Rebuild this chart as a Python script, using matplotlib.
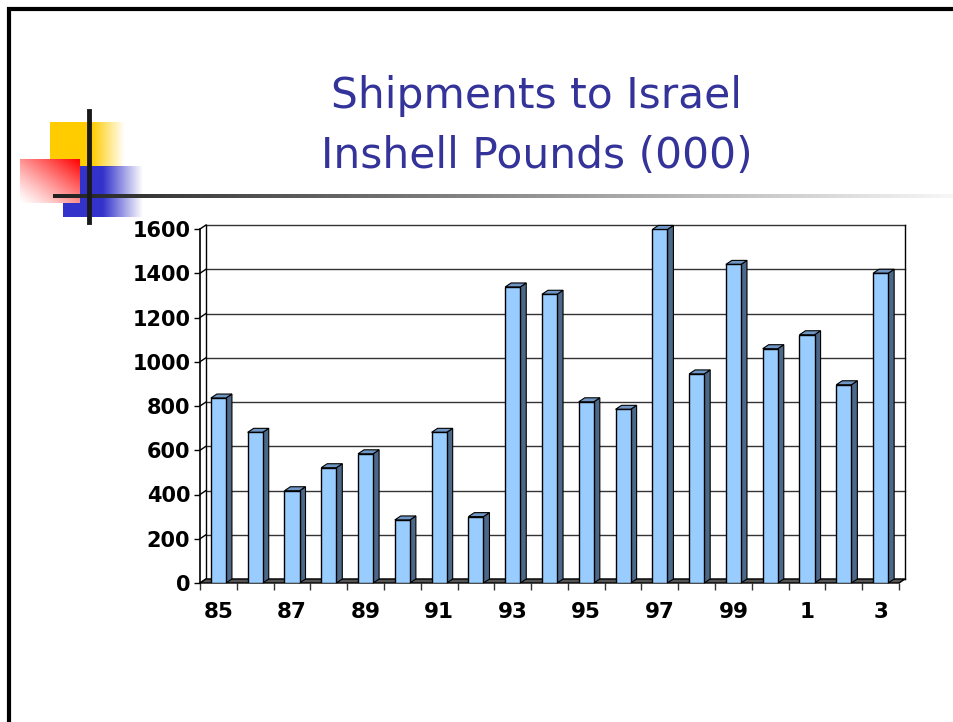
import numpy as np
import matplotlib.pyplot as plt
from matplotlib.patches import Polygon, Rectangle

years = ['85', '86', '87', '88', '89', '90', '91', '92', '93', '94',
         '95', '96', '97', '98', '99', '0', '1', '2', '3']
pounds = [836, 681, 417, 521, 584, 285, 681, 300, 1338, 1305,
          819, 785, 1598, 945, 1440, 1059, 1122, 896, 1400]
yticks = [0, 200, 400, 600, 800, 1000, 1200, 1400, 1600]

W, H = 954, 722
fig = plt.figure(figsize=(W / 100, H / 100), dpi=100)

# ---- slide decoration (pixel coords) ----
deco = fig.add_axes([0, 0, 1, 1])
deco.set_xlim(0, W)
deco.set_ylim(H, 0)
deco.axis('off')

# slide border
deco.plot([9, 9, W], [H, 9, 9], color='black', lw=3, solid_joinstyle='miter')


def hgrad(x0, x1, y0, y1, rgb, solid_to, z):
    n = 200
    xs = np.linspace(x0, x1, n)
    a = np.clip((x1 - xs) / (x1 - solid_to), 0, 1)
    img = np.ones((1, n, 4))
    img[0, :, :3] = rgb
    img[0, :, 3] = a
    deco.imshow(img, extent=[x0, x1, y1, y0], aspect='auto', zorder=z,
                interpolation='bilinear')


hgrad(50, 125, 122, 167, (1.0, 0.8, 0.0), 92, 1)
hgrad(63, 143, 166, 217, (0.2, 0.2, 0.8), 103, 2)

# red square, opaque diagonal fade from red (top right) to white (bottom left)
n = 100
gx, gy = np.meshgrid(np.linspace(0, 1, n), np.linspace(0, 1, n))
t = np.clip((gx + (1 - gy)) / 2, 0, 1) ** 1.2
red = np.ones((n, n, 3))
red[:, :, 1] = 1 - t
red[:, :, 2] = 1 - t
deco.imshow(red, extent=[20, 80, 203, 159], aspect='auto', zorder=3,
            interpolation='bilinear')

# line under title, dark to light
n = 400
line = np.ones((1, n, 4))
v = np.linspace(0.13, 0.97, n)
line[0, :, 0] = v
line[0, :, 1] = v
line[0, :, 2] = v
deco.imshow(line, extent=[53, W, 198, 194], aspect='auto', zorder=4)
deco.plot([89, 89], [111, 222], color='#1a1a1a', lw=3.5, zorder=5)

# ---- title ----
fig.text(537 / W, 1 - 108 / H, 'Shipments to Israel', ha='center', va='baseline',
         fontsize=30.5, color='#333399')
fig.text(537 / W, 1 - 168 / H, 'Inshell Pounds (000)', ha='center', va='baseline',
         fontsize=30.5, color='#333399')

# ---- chart ----
ax = fig.add_axes([200 / W, 1 - 583 / H, 699 / W, 354 / H])
ax.set_xlim(-0.5, len(years) - 0.5)
ax.set_ylim(0, 1600)
for s in ax.spines.values():
    s.set_visible(False)

dx = 6 / (699 / len(years))   # depth in data units
dy = 4 / (354 / 1600)
x0, x1 = -0.5, len(years) - 0.5

# back wall gridlines and connectors on the left
for t in yticks:
    ax.plot([x0 + dx, x1 + dx], [t + dy, t + dy], color='#333333', lw=1,
            clip_on=False, zorder=1)
    ax.plot([x0, x0 + dx], [t, t + dy], color='black', lw=1, clip_on=False, zorder=1)
ax.plot([x0 + dx, x0 + dx], [dy, 1600 + dy], color='black', lw=1, clip_on=False, zorder=1)
ax.plot([x1 + dx, x1 + dx], [dy, 1600 + dy], color='black', lw=1, clip_on=False, zorder=1)
ax.plot([x0, x0], [0, 1600], color='black', lw=1.2, clip_on=False, zorder=6)

# floor
floor = Polygon([[x0, 0], [x1, 0], [x1 + dx, dy], [x0 + dx, dy]], closed=True,
                facecolor='#555555', edgecolor='black', lw=1, clip_on=False, zorder=2)
ax.add_patch(floor)

# bars
bw = 0.41
for i, val in enumerate(pounds):
    left = i - bw / 2
    ax.add_patch(Rectangle((left, 0), bw, val, facecolor='#99ccff',
                           edgecolor='black', lw=1, zorder=4))
    side = [[left + bw, 0], [left + bw + dx, dy], [left + bw + dx, val + dy], [left + bw, val]]
    ax.add_patch(Polygon(side, closed=True, facecolor='#4c6888', edgecolor='black',
                         lw=0.8, zorder=3, clip_on=False))
    top = [[left, val], [left + bw, val], [left + bw + dx, val + dy], [left + dx, val + dy]]
    ax.add_patch(Polygon(top, closed=True, facecolor='#6f96c4', edgecolor='black',
                         lw=0.8, zorder=3, clip_on=False))

ax.set_yticks(yticks)
ax.set_yticklabels([str(t) for t in yticks], fontsize=15, fontweight='bold')
ax.tick_params(axis='y', length=4, width=1, pad=3)

ax.set_xticks(range(0, len(years), 2))
ax.set_xticklabels(years[::2], fontsize=15.5, fontweight='bold')
ax.set_xticks(np.arange(-0.5, len(years), 1), minor=True)
ax.tick_params(axis='x', which='major', length=0, pad=14)
ax.tick_params(axis='x', which='minor', length=5, width=1, color='#333333')

fig.savefig('out.png', dpi=100)
